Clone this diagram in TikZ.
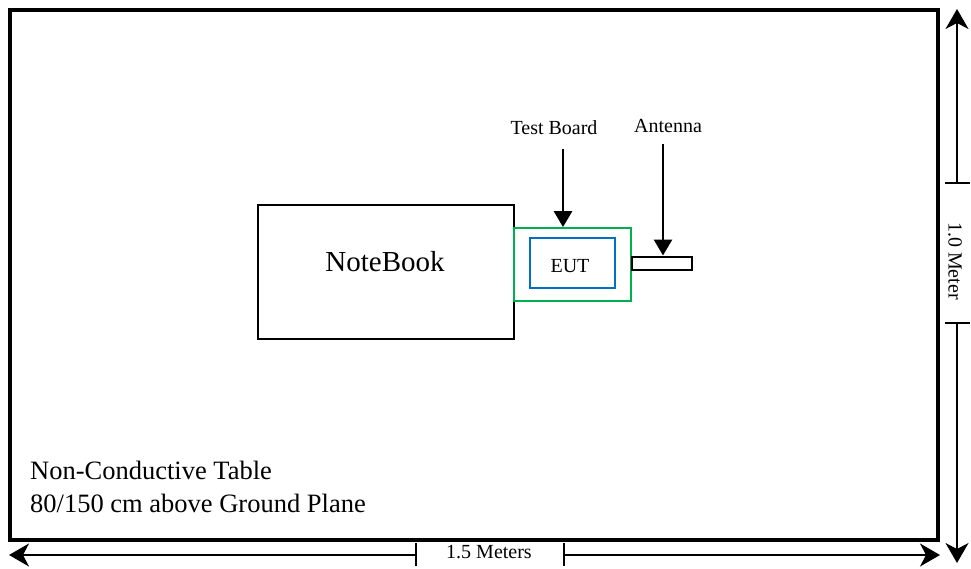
\documentclass[tikz,border=0pt]{standalone}
\usepackage{fontspec}
\setmainfont{Liberation Serif}
\usetikzlibrary{arrows.meta}
\definecolor{tbgreen}{RGB}{0,176,80}
\definecolor{eutblue}{RGB}{0,112,192}
\begin{document}
\begin{tikzpicture}[x=1pt,y=-1pt,
  plainbox/.style={draw, inner sep=0pt, line width=1.8pt},
  dimarrow/.style={line width=1.3pt, -{Stealth[length=20pt,width=23pt,inset=6pt]}},
  lblarrow/.style={line width=2.8pt, -{Triangle[length=16pt,width=18pt]}},
  ticks/.style={line width=1.3pt},
  lbl/.style={font=\fontsize{20}{24}\selectfont, inner sep=0pt}
]
\useasboundingbox (0,0) rectangle (971,568);
% table
\node[draw, line width=3.5pt, inner sep=0pt, minimum width=928, minimum height=530] (table) at (474,275) {};
% notebook
\node[plainbox, minimum width=256, minimum height=134] (nb) at (386,272) {};
\node[inner sep=0pt, anchor=base, font=\fontsize{29}{34}\selectfont] (nbt) at (385,271) {NoteBook};
% test board & EUT
\node[plainbox, draw=tbgreen, minimum width=117, minimum height=73] (tb) at (572.5,264.5) {};
\node[plainbox, draw=eutblue, minimum width=85, minimum height=50] (eut) at (572.5,263) {};
\node[lbl, anchor=base] (eutt) at (570,272) {EUT};
% antenna
\node[draw, line width=2pt, inner sep=0pt, minimum width=60, minimum height=13, anchor=west] (ant) at (631,263) {};
% labels
\node[lbl, anchor=base] (tbl) at (554,134) {Test Board};
\node[lbl, anchor=base] (antl) at (668,132) {Antenna};
\coordinate (tbs) at (563,149);
\coordinate (ants) at (663,144);
\draw[lblarrow] (tbs) -- (tbs |- tb.north);
\draw[lblarrow] (ants) -- (ants |- ant.north);
% table text
\node[inner sep=0pt, anchor=base west, font=\fontsize{26.5}{33}\selectfont] (tt1) at (30,479) {Non-Conductive Table};
\node[inner sep=0pt, anchor=base west, font=\fontsize{26.5}{33}\selectfont] (tt2) at (30,512) {80/150 cm above Ground Plane};
% vertical dimension
\coordinate (vtop) at (957,9);
\coordinate (vbot) at (957,563);
\coordinate (vt1) at (957,183);
\coordinate (vt2) at (957,323);
\draw[ticks] (945,183) -- (970,183);
\draw[ticks] (945,323) -- (970,323);
\draw[dimarrow] (vt1) -- (vtop);
\draw[dimarrow] (vt2) -- (vbot);
\node[lbl, rotate=-90] (vtxt) at (955,261) {1.0 Meter};
% horizontal dimension
\coordinate (hl) at (9,555);
\coordinate (hr) at (940,555);
\coordinate (ht1) at (416,555);
\coordinate (ht2) at (564,555);
\draw[ticks] (416,543) -- (416,566);
\draw[ticks] (564,543) -- (564,566);
\draw[dimarrow] (ht1) -- (hl);
\draw[dimarrow] (ht2) -- (hr);
\node[lbl, anchor=base] (htxt) at (489,558) {1.5 Meters};
\end{tikzpicture}
\end{document}
